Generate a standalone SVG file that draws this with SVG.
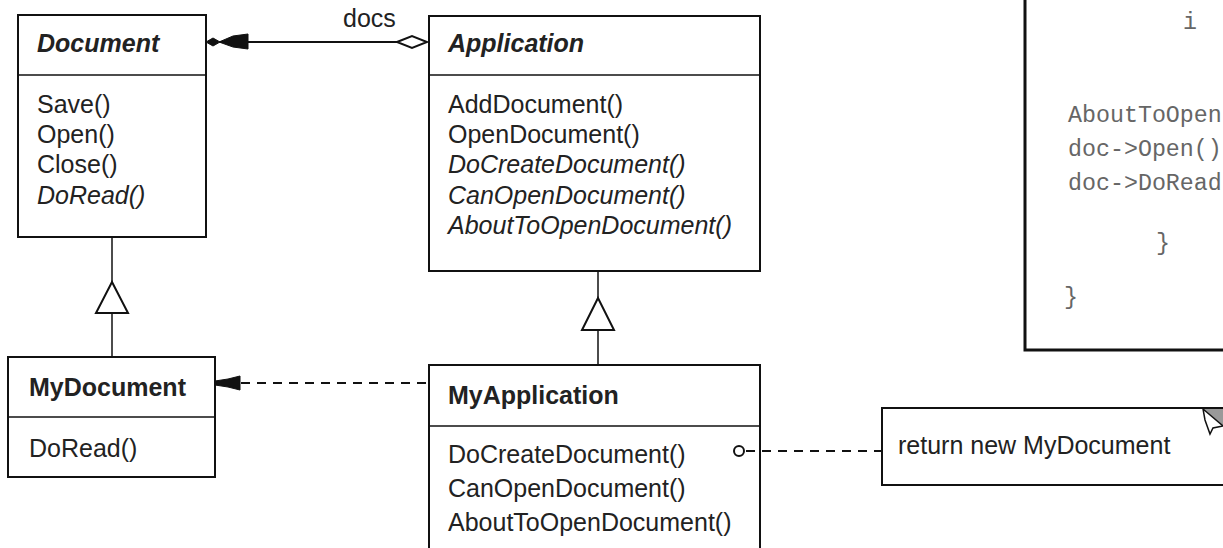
<svg xmlns="http://www.w3.org/2000/svg" width="1223" height="548" viewBox="0 0 1223 548">
<style>
.box{fill:#fff;stroke:#111;stroke-width:2}
.sep{stroke:#111;stroke-width:1.5}
.t{font-family:"Liberation Sans",Arial,sans-serif;font-size:25px;fill:#222}
.b{font-weight:bold}
.i{font-style:italic}
.ln{stroke:#111;stroke-width:1.5;fill:none}
.dash{stroke:#111;stroke-width:2;stroke-dasharray:9 7;fill:none}
.tri{fill:#fff;stroke:#111;stroke-width:2}
.fill{fill:#111;stroke:#111;stroke-width:1}
.code{font-family:"Liberation Mono","Courier New",monospace;font-size:23.3px;fill:#666}
</style>
<rect width="1223" height="548" fill="#fff"/>

<g id="code">
<rect x="1025" y="-10" width="220" height="360" fill="#fff" stroke="#111" stroke-width="3"/>
<text class="code" x="1183" y="29">i</text>
<text class="code" x="1068" y="122">AboutToOpen</text>
<text class="code" x="1068" y="156">doc-&gt;Open()</text>
<text class="code" x="1068" y="190">doc-&gt;DoRead</text>
<text class="code" x="1156" y="250">}</text>
<text class="code" x="1064" y="304">}</text>
</g>

<g id="document">
<rect class="box" x="18" y="15" width="188" height="222"/>
<line class="sep" x1="18" y1="75" x2="206" y2="75"/>
<text class="t b i" x="37" y="52">Document</text>
<text class="t" x="37" y="113">Save()</text>
<text class="t" x="37" y="143">Open()</text>
<text class="t" x="37" y="173">Close()</text>
<text class="t i" x="37" y="204">DoRead()</text>
</g>

<g id="application">
<rect class="box" x="429" y="16" width="331" height="255"/>
<line class="sep" x1="429" y1="75" x2="760" y2="75"/>
<text class="t b i" x="448" y="52">Application</text>
<text class="t" x="448" y="113">AddDocument()</text>
<text class="t" x="448" y="143">OpenDocument()</text>
<text class="t i" x="448" y="173">DoCreateDocument()</text>
<text class="t i" x="448" y="204">CanOpenDocument()</text>
<text class="t i" x="448" y="234">AboutToOpenDocument()</text>
</g>

<g id="mydocument">
<rect class="box" x="8" y="357" width="207" height="120"/>
<line class="sep" x1="8" y1="417" x2="215" y2="417"/>
<text class="t b" x="29" y="396">MyDocument</text>
<text class="t" x="29" y="457">DoRead()</text>
</g>

<g id="myapplication">
<rect class="box" x="429" y="365" width="331" height="200"/>
<line class="sep" x1="429" y1="426" x2="760" y2="426"/>
<text class="t b" x="448" y="404">MyApplication</text>
<text class="t" x="448" y="463">DoCreateDocument()</text>
<text class="t" x="448" y="497">CanOpenDocument()</text>
<text class="t" x="448" y="531">AboutToOpenDocument()</text>
</g>

<g id="note">
<rect class="box" x="882" y="408" width="400" height="77"/>
<text class="t" x="898" y="454">return new MyDocument</text>
<polygon points="1203,409 1223,409 1223,426" fill="#999"/>
<polygon points="1203,409 1223,426 1213,428 1210,434 1205,420" fill="#fff" stroke="#111" stroke-width="1.5"/>
</g>

<g id="connectors">
<line class="ln" x1="112" y1="237" x2="112" y2="282"/>
<polygon class="tri" points="112,282 96,313 128,313"/>
<line class="ln" x1="112" y1="313" x2="112" y2="357"/>

<line class="ln" x1="598" y1="271" x2="598" y2="298"/>
<polygon class="tri" points="598,298 582,330 614,330"/>
<line class="ln" x1="598" y1="330" x2="598" y2="365"/>

<line x1="220" y1="42" x2="397" y2="42" stroke="#111" stroke-width="2"/>
<polygon class="fill" points="206,42 213,38 220,42 213,46"/>
<polygon class="fill" points="219,42 233,36 248,34 248,49 233,47"/>
<polygon points="397,42 412,36 427,42 412,48" fill="#fff" stroke="#111" stroke-width="2"/>
<text class="t" x="343" y="27">docs</text>

<line class="dash" x1="241" y1="383" x2="429" y2="383"/>
<polygon class="fill" points="215,381 228,379 240,376 240,390 228,387 215,385"/>

<circle cx="739" cy="451" r="5" fill="#fff" stroke="#111" stroke-width="2"/>
<line class="dash" x1="746" y1="451" x2="882" y2="451"/>
</g>
</svg>
